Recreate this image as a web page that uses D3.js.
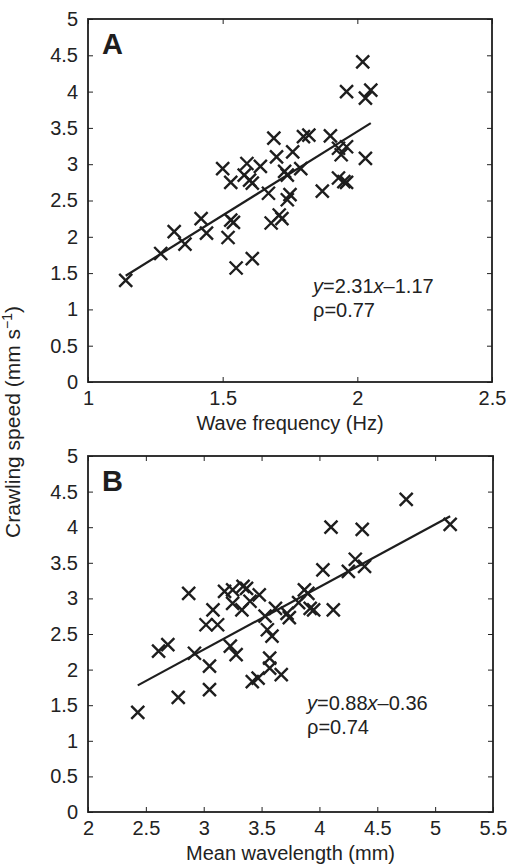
<!DOCTYPE html>
<html>
<head>
<meta charset="utf-8">
<script src="https://cdn.jsdelivr.net/npm/d3@7"></script>
<style>
    body { margin: 0; background: #fff; }
    svg { font-family: "Liberation Sans", Arial, Helvetica, sans-serif; }
    .axis path, .axis line { stroke: #222; }
    .axis text { fill: #222; font-size: 20px; }
</style>
</head>
<body>
<script>
// panel A: wave frequency (Hz) vs crawling speed
const freqA = [1.14, 1.27, 1.32, 1.36, 1.42, 1.44, 1.50, 1.53, 1.52, 1.53, 1.54, 1.55, 1.59, 1.58, 1.60, 1.61, 1.64, 1.61,
    1.69, 1.67, 1.68, 1.70, 1.71, 1.72, 1.73, 1.74, 1.74, 1.75, 1.76, 1.79, 1.80, 1.82, 1.90, 1.87, 1.93, 1.94, 1.96,
    1.93, 1.95, 1.96, 1.96, 2.02, 2.03, 2.05, 2.03];
const speedA = [1.40, 1.77, 2.07, 1.90, 2.25, 2.05, 2.94, 2.75, 1.99, 2.23, 2.20, 1.57, 3.01, 2.85, 2.78, 1.70, 2.97, 2.74,
    3.36, 2.60, 2.19, 3.10, 2.30, 2.25, 2.90, 2.85, 2.51, 2.58, 3.17, 2.94, 3.38, 3.40, 3.39, 2.63, 3.22, 3.13, 3.24,
    2.81, 2.76, 2.75, 4.00, 4.41, 3.91, 4.02, 3.08];

// panel B: mean wavelength (mm) vs crawling speed
const waveB = [2.43, 2.61, 2.69, 2.78, 2.87, 2.92, 3.02, 3.08, 3.12, 3.05, 3.05, 3.18, 3.25, 3.25, 3.23, 3.28, 3.33, 3.34,
    3.37, 3.40, 3.48, 3.42, 3.47, 3.53, 3.55, 3.59, 3.57, 3.57, 3.62, 3.67, 3.72, 3.74, 3.82, 3.87, 3.90, 3.95, 3.92,
    4.03, 4.10, 4.12, 4.25, 4.31, 4.39, 4.37, 4.75, 5.13];
const speedB = [1.40, 2.26, 2.35, 1.61, 3.07, 2.23, 2.63, 2.84, 2.63, 2.05, 1.72, 3.10, 3.12, 2.93, 2.33, 2.21, 2.84, 3.17,
    3.14, 2.96, 3.05, 1.83, 1.88, 2.75, 2.56, 2.47, 2.16, 2.02, 2.86, 1.93, 2.79, 2.73, 2.94, 3.12, 3.07, 2.84, 2.86,
    3.40, 4.00, 2.84, 3.38, 3.55, 3.45, 3.97, 4.39, 4.04];

const yTicks = [0, 0.5, 1, 1.5, 2, 2.5, 3, 3.5, 4, 4.5, 5];
const xTicksA = [1, 1.5, 2, 2.5];
const xTicksB = [2, 2.5, 3, 3.5, 4, 4.5, 5, 5.5];

const fitA = { slope: 2.31, icept: -1.17, rho: '0.77', label: 'A', eq: ['2.31', '1.17'] };
const fitB = { slope: 0.88, icept: -0.36, rho: '0.74', label: 'B', eq: ['0.88', '0.36'] };

const outerW = 508,
    outerH = 864;

const ink = '#1e1e1e';

const svg = d3.select('body').append('svg')
    .attr('width', outerW)
    .attr('height', outerH);

function panel(opts) {
    const { xs, ys, xDomain, xTicks, box, fit, xTitle, eqPos } = opts;

    const x = d3.scaleLinear().domain(xDomain).range([box.left, box.right]);
    const y = d3.scaleLinear().domain([0, 5]).range([box.bottom, box.top]);
    const w = box.right - box.left,
        h = box.bottom - box.top;

    const g = svg.append('g');

    // axes with inward ticks, mirrored on top and right
    g.append('g')
        .attr('class', 'axis')
        .attr('transform', `translate(0, ${box.bottom})`)
        .call(d3.axisBottom(x).tickValues(xTicks).tickFormat(d => d)
            .tickSizeInner(-5).tickSizeOuter(0).tickPadding(9));

    g.append('g')
        .attr('class', 'axis')
        .attr('transform', `translate(${box.left}, 0)`)
        .call(d3.axisLeft(y).tickValues(yTicks).tickFormat(d => d)
            .tickSizeInner(-5).tickSizeOuter(0).tickPadding(10));

    g.append('g')
        .attr('class', 'axis')
        .attr('transform', `translate(0, ${box.top})`)
        .call(d3.axisTop(x).tickValues(xTicks).tickFormat('')
            .tickSizeInner(-5).tickSizeOuter(0));

    g.append('g')
        .attr('class', 'axis')
        .attr('transform', `translate(${box.right}, 0)`)
        .call(d3.axisRight(y).tickValues(yTicks).tickFormat('')
            .tickSizeInner(-5).tickSizeOuter(0));

    g.selectAll('.axis .domain').remove();

    g.append('rect')
        .attr('x', box.left)
        .attr('y', box.top)
        .attr('width', w)
        .attr('height', h)
        .attr('fill', 'none')
        .attr('stroke', ink)
        .attr('stroke-width', 1.8);

    // regression line over the data range
    const [x0, x1] = d3.extent(xs);
    g.append('line')
        .attr('x1', x(x0))
        .attr('y1', y(fit.slope * x0 + fit.icept))
        .attr('x2', x(x1))
        .attr('y2', y(fit.slope * x1 + fit.icept))
        .attr('stroke', ink)
        .attr('stroke-width', 2.2);

    // crosses
    const pts = xs.map((d, i) => ({ x: d, y: ys[i] }));
    g.selectAll('.pt')
        .data(pts)
        .enter()
        .append('path')
        .attr('class', 'pt')
        .attr('transform', d => `translate(${x(d.x)}, ${y(d.y)})`)
        .attr('d', 'M-6.5,-6.5L6.5,6.5M-6.5,6.5L6.5,-6.5')
        .attr('stroke', ink)
        .attr('stroke-width', 2.4)
        .attr('fill', 'none');

    // panel letter
    g.append('text')
        .attr('x', box.left + 14)
        .attr('y', box.top + 35)
        .attr('font-size', 29)
        .attr('font-weight', 'bold')
        .attr('fill', ink)
        .text(fit.label);

    // equation
    const eq = g.append('text')
        .attr('x', eqPos[0])
        .attr('y', eqPos[1])
        .attr('font-size', 20)
        .attr('fill', '#222');
    eq.append('tspan').attr('font-style', 'italic').text('y');
    eq.append('tspan').text('=' + fit.eq[0]);
    eq.append('tspan').attr('font-style', 'italic').text('x');
    eq.append('tspan').text('\u2013' + fit.eq[1]);

    g.append('text')
        .attr('x', eqPos[0])
        .attr('y', eqPos[1] + 24)
        .attr('font-size', 20)
        .attr('fill', '#222')
        .text('\u03c1=' + fit.rho);

    // x title
    g.append('text')
        .attr('x', (box.left + box.right) / 2)
        .attr('y', box.bottom + 48)
        .attr('text-anchor', 'middle')
        .attr('font-size', 20)
        .attr('fill', '#222')
        .text(xTitle);
}

panel({
    xs: freqA, ys: speedA,
    xDomain: [1, 2.5], xTicks: xTicksA,
    box: { left: 88, right: 492, top: 19, bottom: 382 },
    fit: fitA,
    xTitle: 'Wave frequency (Hz)',
    eqPos: [313, 293]
});

panel({
    xs: waveB, ys: speedB,
    xDomain: [2, 5.5], xTicks: xTicksB,
    box: { left: 88, right: 493, top: 456, bottom: 812 },
    fit: fitB,
    xTitle: 'Mean wavelength (mm)',
    eqPos: [307, 710]
});

// shared y title
const yt = svg.append('text')
    .attr('transform', 'translate(20, 422) rotate(-90)')
    .attr('text-anchor', 'middle')
    .attr('font-size', 21)
    .attr('fill', '#222');
yt.append('tspan').text('Crawling speed (mm s');
yt.append('tspan').attr('dy', -8).attr('font-size', 14).text('\u22121');
yt.append('tspan').attr('dy', 8).text(')');
</script>
</body>
</html>
